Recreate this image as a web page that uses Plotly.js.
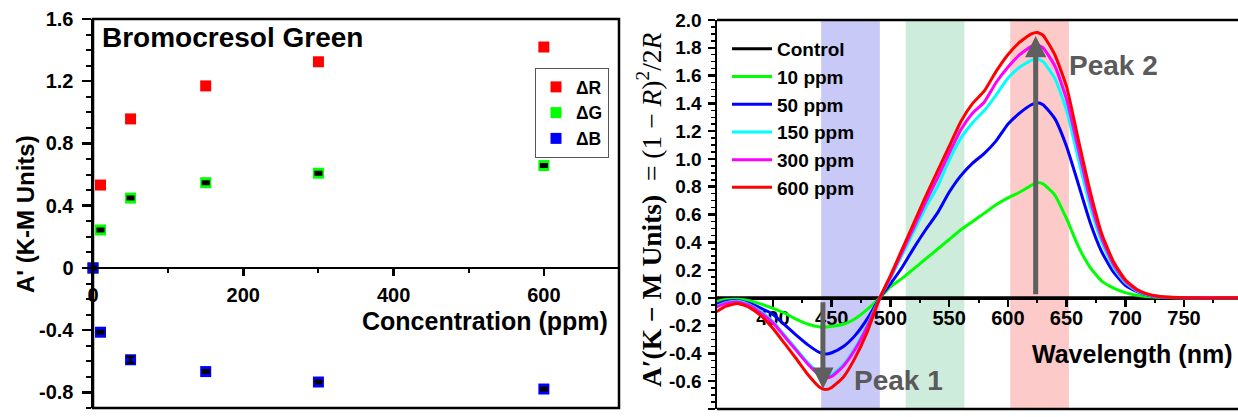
<!DOCTYPE html>
<html>
<head>
<meta charset="utf-8">
<script src="https://cdn.plot.ly/plotly-3.0.1.min.js"></script>
<style>html,body{margin:0;padding:0;background:#fff;}#chart{width:1238px;height:417px;}</style>
</head>
<body>
<div id="chart"></div>
<script>
// ---------- Left panel data ----------
const conc = [0, 10, 50, 150, 300, 600];
const deltaR = [0, 0.533, 0.958, 1.17, 1.325, 1.42];
const deltaG = [0, 0.244, 0.449, 0.548, 0.609, 0.658];
const deltaB = [0, -0.413, -0.59, -0.666, -0.733, -0.778];
const errG = [0.006, 0.008, 0.008, 0.008, 0.008, 0.008];
const errB = [0.006, 0.008, 0.019, 0.008, 0.008, 0.008];
const leftYTicks = [-0.8, -0.4, 0, 0.4, 0.8, 1.2, 1.6];
const leftYText = ['-0.8', '-0.4', '0', '0.4', '0.8', '1.2', '1.6'];
const leftXTicks = [0, 200, 400, 600];

// ---------- Right panel data ----------
const wl = [352,360,370,380,390,400,410,420,430,440,445,450,460,470,480,491,500,510,520,530,540,550,560,570,580,590,600,610,620,625,630,640,650,660,670,680,690,700,710,720,730,740,760,780,796];
const ctrlWl = [352, 796];
const ctrl = [0, 0];
const ppm10 = [-0.025,-0.012,-0.01,-0.02,-0.045,-0.075,-0.11,-0.155,-0.19,-0.21,-0.21,-0.205,-0.19,-0.15,-0.085,0,0.08,0.14,0.21,0.28,0.35,0.42,0.49,0.55,0.61,0.67,0.72,0.76,0.81,0.83,0.82,0.74,0.57,0.37,0.22,0.12,0.07,0.038,0.018,0.008,0.003,0.001,0,0,0];
const ppm50 = [-0.045,-0.025,-0.02,-0.04,-0.075,-0.12,-0.195,-0.27,-0.34,-0.395,-0.405,-0.395,-0.35,-0.27,-0.155,0,0.10,0.22,0.36,0.49,0.61,0.76,0.88,0.97,1.04,1.13,1.25,1.33,1.39,1.405,1.39,1.29,1.09,0.82,0.545,0.33,0.185,0.09,0.045,0.018,0.006,0.002,0,0,0];
const ppm150 = [-0.06,-0.035,-0.025,-0.05,-0.10,-0.17,-0.27,-0.37,-0.47,-0.545,-0.56,-0.55,-0.48,-0.36,-0.20,0,0.14,0.31,0.48,0.65,0.80,0.99,1.15,1.26,1.35,1.46,1.58,1.66,1.71,1.72,1.70,1.58,1.35,1.00,0.66,0.40,0.22,0.11,0.05,0.02,0.007,0.003,0,0,0];
const ppm300 = [-0.065,-0.04,-0.03,-0.055,-0.11,-0.18,-0.28,-0.38,-0.48,-0.56,-0.575,-0.565,-0.49,-0.37,-0.21,0,0.15,0.33,0.51,0.69,0.86,1.04,1.21,1.33,1.41,1.55,1.66,1.75,1.81,1.82,1.80,1.67,1.43,1.07,0.71,0.43,0.24,0.12,0.055,0.022,0.008,0.003,0,0,0];
const ppm600 = [-0.10,-0.06,-0.04,-0.07,-0.13,-0.22,-0.33,-0.44,-0.555,-0.645,-0.66,-0.645,-0.57,-0.43,-0.25,0,0.16,0.35,0.54,0.73,0.91,1.09,1.27,1.40,1.49,1.63,1.75,1.84,1.90,1.91,1.89,1.75,1.52,1.14,0.77,0.46,0.26,0.13,0.06,0.025,0.01,0.004,0,0,0];
const seriesNames = ['Control', '10 ppm', '50 ppm', '150 ppm', '300 ppm', '600 ppm'];
const seriesColors = ['#000000', '#00ff00', '#0000ff', '#00ffff', '#ff00ff', '#ff0000'];
const rightYTicks = [-0.8,-0.6,-0.4,-0.2,0,0.2,0.4,0.6,0.8,1.0,1.2,1.4,1.6,1.8,2.0];
const rightXTicks = [400,450,500,550,600,650,700,750];
const bands = [[441, 491, '#c9c9f7'], [513, 563, '#cdecdb'], [602, 652, '#fdcaca']];
const peak1 = {x: 442.5, from: -0.02, to: -0.655};
const peak2 = {x: 623.7, from: 0.015, to: 1.885};

// ---------- Geometry ----------
const W = 1238, H = 417;
const px = v => v / W, py = v => (H - v) / H;
const lDomX = [px(93), px(619)], lDomY = [py(408), py(19)];
const rDomX = [px(717), 1], rDomY = [py(409), py(20)];
const lRangeX = [0, 700], lRangeY = [-0.9, 1.6];
const rRangeX = [352.3, 796], rRangeY = [-0.8, 2.0];
const zeroPos = (dom, rng) => dom[0] + (0 - rng[0]) / (rng[1] - rng[0]) * (dom[1] - dom[0]);

const SANS = 'Liberation Sans, Arial, sans-serif';
const SERIF = 'Liberation Serif, Times New Roman, serif';
const bold = (size, color) => ({family: SANS, size: size, color: color || '#000', weight: 'bold'});

const traces = [];
traces.push({x: conc, y: deltaR, type: 'scatter', mode: 'markers', name: 'ΔR',
  marker: {symbol: 'square', size: 11, color: '#ff0000'}, xaxis: 'x', yaxis: 'y', legend: 'legend', cliponaxis: false});
traces.push({x: conc, y: deltaG, type: 'scatter', mode: 'markers', name: 'ΔG',
  marker: {symbol: 'square', size: 11, color: '#00ff00'}, xaxis: 'x', yaxis: 'y', legend: 'legend', cliponaxis: false});
traces.push({x: conc, y: deltaB, type: 'scatter', mode: 'markers', name: 'ΔB',
  marker: {symbol: 'square', size: 11, color: '#0000ff'}, xaxis: 'x', yaxis: 'y', legend: 'legend', cliponaxis: false});
// error bars drawn on top of the squares
[[deltaG, errG], [deltaB, errB]].forEach(p => {
  traces.push({x: conc, y: p[0], type: 'scatter', mode: 'markers', showlegend: false, hoverinfo: 'skip',
    marker: {symbol: 'square', size: 11, opacity: 0},
    error_y: {type: 'data', array: p[1], color: '#000', thickness: 2.5, width: 4},
    xaxis: 'x', yaxis: 'y', cliponaxis: false});
});

const ys = [ctrl, ppm10, ppm50, ppm150, ppm300, ppm600];
ys.forEach((y, i) => {
  traces.push({x: i === 0 ? ctrlWl : wl, y: y, type: 'scatter', mode: 'lines', name: seriesNames[i],
    line: {color: seriesColors[i], width: 3, shape: 'spline', smoothing: 0.5},
    xaxis: 'x2', yaxis: 'y2', legend: 'legend2'});
});

const shapes = [];
bands.forEach(b => shapes.push({type: 'rect', xref: 'x2', yref: 'y2 domain', x0: b[0], x1: b[1], y0: 0, y1: 1,
  fillcolor: b[2], line: {width: 0}, layer: 'below'}));
shapes.push({type: 'rect', xref: 'x domain', yref: 'y domain', x0: 0, x1: 1, y0: 0, y1: 1, line: {color: '#000', width: 2.5}, layer: 'above'});
shapes.push({type: 'line', xref: 'x2 domain', yref: 'y2 domain', x0: 0, x1: 1, y0: 1, y1: 1, line: {color: '#000', width: 2.5}});
shapes.push({type: 'line', xref: 'x2 domain', yref: 'y2 domain', x0: 0, x1: 1, y0: 0, y1: 0, line: {color: '#000', width: 2.5}});

const annotations = [
  {text: 'Bromocresol Green', xref: 'paper', yref: 'paper', x: px(100), y: py(38), xanchor: 'left', yanchor: 'middle', showarrow: false, font: bold(28)},
  {text: 'Concentration (ppm)', xref: 'paper', yref: 'paper', x: px(485), y: py(321), xanchor: 'center', yanchor: 'middle', showarrow: false, font: bold(25)},
  {text: "A' (K-M Units)", xref: 'paper', yref: 'paper', x: px(26), y: py(214), xanchor: 'center', yanchor: 'middle', textangle: -90, showarrow: false, font: bold(24)},
  {text: 'Wavelength (nm)', xref: 'paper', yref: 'paper', x: px(1132), y: py(354), xanchor: 'center', yanchor: 'middle', showarrow: false, font: bold(25)},
  {text: '<b>A′(K − M Units)</b>  = (1 − <i>R</i>)<sup>2</sup>/2<i>R</i>', xref: 'paper', yref: 'paper', x: px(649), y: py(210), xanchor: 'center', yanchor: 'middle', textangle: -90, showarrow: false, font: {family: SERIF, size: 27.5, color: '#000'}},
  {text: 'Peak 1', xref: 'paper', yref: 'paper', x: px(852), y: py(380), xanchor: 'left', yanchor: 'middle', showarrow: false, font: bold(28, '#5a5a5a')},
  {text: 'Peak 2', xref: 'paper', yref: 'paper', x: px(1067), y: py(65), xanchor: 'left', yanchor: 'middle', showarrow: false, font: bold(28, '#5a5a5a')},
  {text: '', xref: 'x2', yref: 'y2', axref: 'x2', ayref: 'y2', x: peak1.x, y: peak1.to, ax: peak1.x, ay: peak1.from,
    showarrow: true, arrowhead: 2, arrowsize: 0.85, arrowwidth: 5, arrowcolor: '#5f5f5f', standoff: 0, startstandoff: 0},
  {text: '', xref: 'x2', yref: 'y2', axref: 'x2', ayref: 'y2', x: peak2.x, y: peak2.to, ax: peak2.x, ay: peak2.from,
    showarrow: true, arrowhead: 2, arrowsize: 0.85, arrowwidth: 5, arrowcolor: '#5f5f5f', standoff: 0, startstandoff: 0}
];

const layout = {
  width: W, height: H, autosize: false,
  margin: {l: 0, r: 0, t: 0, b: 0, pad: 0},
  paper_bgcolor: '#fff', plot_bgcolor: 'rgba(0,0,0,0)',
  showlegend: true,
  xaxis: {domain: lDomX, range: lRangeX, anchor: 'free', position: zeroPos(lDomY, lRangeY),
    showline: true, linecolor: '#000', linewidth: 2.5, showgrid: false, zeroline: false,
    tickmode: 'array', tickvals: leftXTicks, ticks: 'outside', ticklen: 7, tickwidth: 2.5, tickcolor: '#000',
    minor: {tickmode: 'linear', tick0: 0, dtick: 100, ticks: 'outside', ticklen: 4, tickwidth: 2, tickcolor: '#000'},
    tickfont: bold(20), ticklabelstandoff: 2, automargin: false, fixedrange: true},
  yaxis: {domain: lDomY, range: lRangeY, anchor: 'x', position: 0,
    showline: true, linecolor: '#000', linewidth: 2.5, showgrid: false, zeroline: false,
    tickmode: 'array', tickvals: leftYTicks, ticktext: leftYText, ticks: 'outside', ticklen: 9, tickwidth: 2.5, tickcolor: '#000',
    minor: {tickmode: 'linear', tick0: 0, dtick: 0.1, ticks: 'outside', ticklen: 5, tickwidth: 2, tickcolor: '#000'},
    tickfont: bold(20), ticklabelstandoff: 4, automargin: false, fixedrange: true},
  xaxis2: {domain: rDomX, range: rRangeX, anchor: 'free', position: zeroPos(rDomY, rRangeY),
    showline: true, linecolor: '#000', linewidth: 3, showgrid: false, zeroline: false, layer: 'below traces',
    tickmode: 'array', tickvals: rightXTicks, ticks: 'outside', ticklen: 7, tickwidth: 2.5, tickcolor: '#000',
    minor: {tickmode: 'linear', tick0: 375, dtick: 50, ticks: 'outside', ticklen: 3, tickwidth: 2, tickcolor: '#000'},
    tickfont: bold(20), ticklabelstandoff: -6, automargin: false, fixedrange: true},
  yaxis2: {domain: rDomY, range: rRangeY, anchor: 'x2',
    showline: true, linecolor: '#000', linewidth: 2.5, showgrid: false, zeroline: false,
    tickmode: 'array', tickvals: rightYTicks, ticktext: rightYTicks.map(v => v.toFixed(1)), ticks: 'outside', ticklen: 7, tickwidth: 2.5, tickcolor: '#000',
    minor: {tickmode: 'linear', tick0: 0, dtick: 0.05, ticks: 'outside', ticklen: 4, tickwidth: 1.5, tickcolor: '#000'},
    tickfont: bold(19), ticklabelstandoff: 2, automargin: false, fixedrange: true},
  legend: {x: px(535), y: py(68), xanchor: 'left', yanchor: 'top', bordercolor: '#555', borderwidth: 1, bgcolor: '#fff',
    font: bold(17.5), itemwidth: 30, tracegroupgap: 0},
  legend2: {x: px(727), y: py(30), xanchor: 'left', yanchor: 'top', borderwidth: 0, bgcolor: 'rgba(0,0,0,0)',
    font: bold(19), itemwidth: 40, tracegroupgap: 0},
  shapes: shapes,
  annotations: annotations
};

Plotly.newPlot('chart', traces, layout, {staticPlot: true, displayModeBar: false});
</script>
</body>
</html>
